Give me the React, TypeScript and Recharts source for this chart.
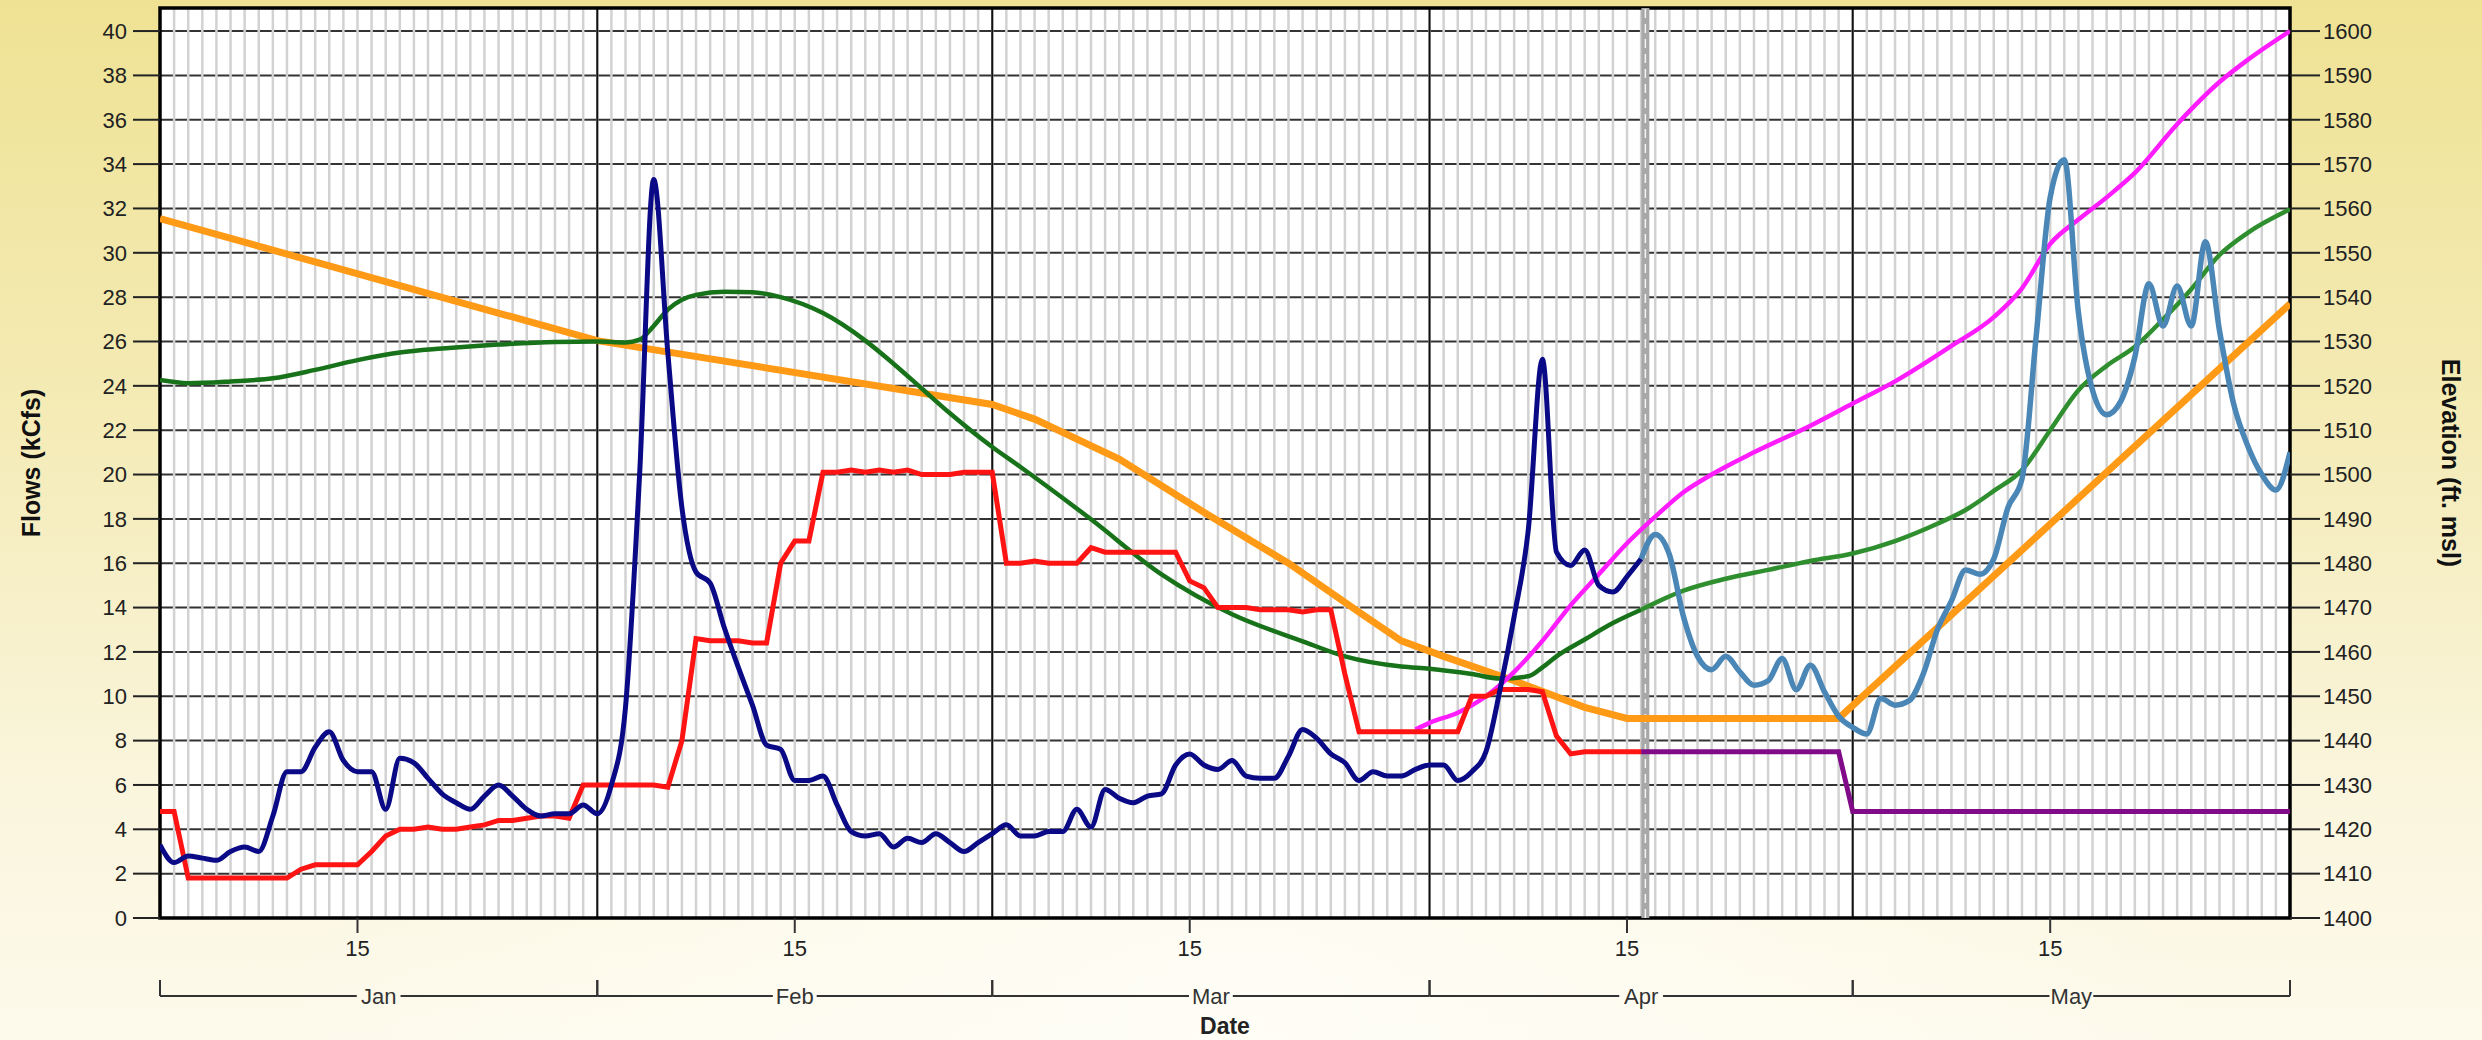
import { ComposedChart, Line, XAxis, YAxis, CartesianGrid, ReferenceLine, ReferenceArea } from 'recharts'

const CHART_W = 2482
const CHART_H = 1040
const LEFT_W = 160
const RIGHT_W = 192
const PLOT_W = CHART_W - LEFT_W - RIGHT_W
const DAY_SPAN = 151
const DAY_PX = PLOT_W / DAY_SPAN
const FONT = '"Liberation Sans", Arial, sans-serif'

// axes
const FLOW_TOP = 41.04
const ELEV_TOP = 1605.2
const FLOW_TICKS = [0, 2, 4, 6, 8, 10, 12, 14, 16, 18, 20, 22, 24, 26, 28, 30, 32, 34, 36, 38, 40]
const ELEV_TICKS = [1400, 1410, 1420, 1430, 1440, 1450, 1460, 1470, 1480, 1490, 1500, 1510, 1520, 1530, 1540, 1550, 1560, 1570, 1580, 1590, 1600]
const DAY_TICKS = [14, 45, 73, 104, 134]
const MONTH_STARTS = [31, 59, 90, 120]
const MONTH_LABELS = ['Jan', 'Feb', 'Mar', 'Apr', 'May']
const MONTH_DAYS = [31, 28, 31, 30, 31]
const MONTH_MIDS = [15.5, 45, 74.5, 105, 135.5]
const MARKER_DAY = 105.3

// flows (kcfs), one value per day
const INFLOW_OBS_START = 0
const INFLOW_OBS = [
  3.3, 2.5, 2.8, 2.7, 2.6, 3.0, 3.2, 3.0, 4.6, 6.6,
  6.6, 7.7, 8.4, 7.1, 6.6, 6.6, 4.9, 7.2, 7.0, 6.3,
  5.6, 5.2, 4.9, 5.5, 6.0, 5.5, 4.9, 4.6, 4.7, 4.7,
  5.1, 4.7, 6.0, 9.5, 20.0, 33.3, 25.5, 18.5, 15.6, 15.1,
  13.1, 11.3, 9.6, 7.8, 7.6, 6.2, 6.2, 6.4, 5.1, 3.9,
  3.7, 3.8, 3.2, 3.6, 3.4, 3.8, 3.4, 3.0, 3.4, 3.8,
  4.2, 3.7, 3.7, 3.9, 3.9, 4.9, 4.1, 5.8, 5.4, 5.2,
  5.5, 5.6, 6.9, 7.4, 6.9, 6.7, 7.1, 6.4, 6.3, 6.3,
  7.3, 8.5, 8.1, 7.4, 7.0, 6.2, 6.6, 6.4, 6.4, 6.7,
  6.9, 6.9, 6.2, 6.6, 7.5, 10.3, 13.6, 17.5, 25.2, 16.5,
  15.9, 16.6, 15.0, 14.7, 15.4, 16.2,
]
const INFLOW_FCST_START = 105
const INFLOW_FCST = [
  16.2, 17.3, 16.4, 13.6, 11.8, 11.2, 11.8, 11.1, 10.5, 10.7,
  11.7, 10.3, 11.4, 10.2, 9.1, 8.6, 8.3, 9.9, 9.6, 9.8,
  11.0, 13.0, 14.3, 15.7, 15.5, 16.2, 18.5, 19.8, 26.2, 32.5,
  34.2, 27.3, 23.8, 22.7, 23.3, 25.3, 28.6, 26.7, 28.5, 26.7,
  30.5, 26.5, 23.2, 21.3, 20.0, 19.3, 21.0,
]
const OUTFLOW_OBS_START = 0
const OUTFLOW_OBS = [
  4.8, 4.8, 1.8, 1.8, 1.8, 1.8, 1.8, 1.8, 1.8, 1.8,
  2.2, 2.4, 2.4, 2.4, 2.4, 3.0, 3.7, 4.0, 4.0, 4.1,
  4.0, 4.0, 4.1, 4.2, 4.4, 4.4, 4.5, 4.6, 4.6, 4.5,
  6.0, 6.0, 6.0, 6.0, 6.0, 6.0, 5.9, 8.0, 12.6, 12.5,
  12.5, 12.5, 12.4, 12.4, 16.0, 17.0, 17.0, 20.1, 20.1, 20.2,
  20.1, 20.2, 20.1, 20.2, 20.0, 20.0, 20.0, 20.1, 20.1, 20.1,
  16.0, 16.0, 16.1, 16.0, 16.0, 16.0, 16.7, 16.5, 16.5, 16.5,
  16.5, 16.5, 16.5, 15.2, 14.9, 14.0, 14.0, 14.0, 13.9, 13.9,
  13.9, 13.8, 13.9, 13.9, 11.0, 8.4, 8.4, 8.4, 8.4, 8.4,
  8.4, 8.4, 8.4, 10.0, 10.0, 10.3, 10.3, 10.3, 10.2, 8.2,
  7.4, 7.5, 7.5, 7.5, 7.5, 7.5,
]
const OUTFLOW_FCST_DAYS = [105, 119, 120, 151]
const OUTFLOW_FCST = [7.5, 7.5, 4.8, 4.8]

// elevations (ft msl)
const RULE_DAYS = [0, 31, 59, 62, 68, 74, 80, 85, 88, 91, 96, 101, 104, 119, 151]
const RULE_ELEV = [1557.7, 1530.2, 1515.8, 1512.5, 1503.5, 1491.5, 1480, 1469, 1462.5, 1459, 1453.5, 1447.5, 1445, 1445, 1538.5]
const ELEV_OBS_DAYS = [0, 2, 5, 8, 11, 14, 17, 20, 24, 28, 31, 33, 34, 35, 36, 37, 38, 40, 42, 44, 47, 50, 52, 54, 56, 59, 61, 66, 71, 76, 81, 84, 88, 90, 93, 95, 97, 98, 99, 101, 103, 105]
const ELEV_OBS = [1521.3, 1520.6, 1521, 1521.7, 1523.6, 1525.8, 1527.5, 1528.4, 1529.3, 1529.9, 1530, 1529.8, 1530.4, 1533.5, 1537.2, 1539.4, 1540.5, 1541.2, 1541.1, 1540, 1536.4, 1530.2, 1525, 1519.4, 1513.8, 1506.2, 1501.7, 1489.9, 1477.5, 1468.5, 1462.4, 1459, 1456.7, 1456.2, 1455, 1454, 1454.5, 1456.5, 1459, 1462.8, 1466.5, 1469.5]
const ELEV_FCST_DAYS = [105, 108, 111, 114, 117, 120, 123, 126, 128, 130, 132, 134, 136, 138, 140, 142, 144, 146, 148, 151]
const ELEV_FCST = [1469.5, 1473.8, 1476.5, 1478.5, 1480.5, 1482.2, 1485, 1488.9, 1492, 1496.3, 1501, 1510, 1519, 1524.5, 1528.8, 1535, 1541.8, 1549.5, 1554.5, 1559.8]
const ELEV_ALT_DAYS = [89, 90, 92, 94, 96, 98, 100, 102, 104, 106, 108, 110, 113, 117, 120, 123, 127, 130, 132, 134, 136, 138, 140, 143, 146, 148, 151]
const ELEV_ALT = [1442.5, 1444, 1446.3, 1450, 1455.5, 1462.5, 1470.5, 1477.5, 1484.5, 1490.5, 1496, 1500, 1505, 1511, 1516, 1521, 1529, 1535.5, 1542, 1552, 1557.5, 1562.5, 1568, 1579, 1588.5, 1593.5, 1600]

const daily = (start: number, values: number[]) => values.map((v, i) => ({ day: start + i, v }))
const paired = (days: number[], values: number[]) => days.map((d, i) => ({ day: d, v: values[i] }))

const ALL_DAYS = Array.from({ length: DAY_SPAN - 1 }, (_, i) => i + 1)

function MonthTick(props: any) {
  const { x, y, payload } = props
  const i = MONTH_MIDS.indexOf(payload.value)
  if (i < 0) return null
  const half = (MONTH_DAYS[i] / 2) * DAY_PX
  const label = MONTH_LABELS[i]
  const textHalf = label.length * 6.3 + 3
  const ly = y + 38
  const st = { stroke: '#333', strokeWidth: 2 }
  return (
    <g>
      <line x1={x - half} y1={ly} x2={x - textHalf} y2={ly} {...st} />
      <line x1={x + textHalf} y1={ly} x2={x + half} y2={ly} {...st} />
      <line x1={x - half} y1={ly - 16} x2={x - half} y2={ly} {...st} />
      <line x1={x + half} y1={ly - 16} x2={x + half} y2={ly} {...st} />
      <text x={x} y={ly + 8} textAnchor="middle" fontSize={22} fontFamily={FONT} fill="#333">
        {label}
      </text>
    </g>
  )
}

const tickStyle = { fill: '#222', fontSize: 22, fontFamily: FONT }

export default function App() {
  return (
    <div
      style={{
        position: 'absolute',
        left: 0,
        top: 0,
        width: CHART_W,
        height: CHART_H,
        background:
          'radial-gradient(ellipse at 50% 100%, rgba(255,254,248,0.85) 0%, rgba(255,254,248,0) 55%), linear-gradient(#efe294 0%, #f4ebb6 40%, #faf5dc 75%, #fdfaec 100%)',
      }}
    >
      <ComposedChart width={CHART_W} height={CHART_H} margin={{ top: 8, right: 0, bottom: 5, left: 0 }} style={{ fontFamily: FONT }}>
        <XAxis
          xAxisId="day"
          dataKey="day"
          type="number"
          domain={[0, DAY_SPAN]}
          allowDataOverflow
          ticks={DAY_TICKS}
          interval={0}
          tickFormatter={() => '15'}
          height={40}
          tickSize={15}
          tickMargin={7}
          axisLine={false}
          tickLine={{ stroke: '#333', strokeWidth: 2 }}
          tick={tickStyle}
        />
        <XAxis
          xAxisId="month"
          dataKey="day"
          type="number"
          domain={[0, DAY_SPAN]}
          allowDataOverflow
          ticks={MONTH_MIDS}
          interval={0}
          height={77}
          tickSize={0}
          tickMargin={0}
          axisLine={false}
          tickLine={false}
          tick={<MonthTick />}
          label={{ value: 'Date', position: 'insideBottom', offset: 1, fill: '#222', fontSize: 23, fontWeight: 'bold', fontFamily: FONT }}
        />
        <YAxis
          yAxisId="flow"
          orientation="left"
          width={LEFT_W}
          type="number"
          domain={[0, FLOW_TOP]}
          allowDataOverflow
          ticks={FLOW_TICKS}
          interval={0}
          tickSize={27}
          tickMargin={6}
          axisLine={false}
          tickLine={{ stroke: '#222', strokeWidth: 2 }}
          tick={tickStyle}
          label={{ value: 'Flows (kCfs)', angle: -90, position: 'center', dx: -49, fill: '#111', fontSize: 25, fontWeight: 'bold', fontFamily: FONT }}
        />
        <YAxis
          yAxisId="elev"
          orientation="right"
          width={RIGHT_W}
          type="number"
          domain={[1400, ELEV_TOP]}
          allowDataOverflow
          ticks={ELEV_TICKS}
          interval={0}
          tickSize={30}
          tickMargin={3}
          axisLine={false}
          tickLine={{ stroke: '#222', strokeWidth: 2 }}
          tick={tickStyle}
          label={{ value: 'Elevation (ft. msl)', angle: 90, position: 'center', dx: 65, fill: '#111', fontSize: 25, fontWeight: 'bold', fontFamily: FONT }}
        />

        <CartesianGrid xAxisId="day" yAxisId="flow" vertical={false} stroke="#333" strokeWidth={2} fill="#fff" />
        <CartesianGrid xAxisId="day" yAxisId="flow" horizontal={false} verticalValues={ALL_DAYS} stroke="#d2d2d2" strokeWidth={2.5} />
        <CartesianGrid xAxisId="day" yAxisId="flow" horizontal={false} verticalValues={MONTH_STARTS} stroke="#111" strokeWidth={2} />

        <ReferenceArea xAxisId="day" yAxisId="flow" x1={0} x2={DAY_SPAN} y1={0} y2={FLOW_TOP} fill="none" stroke="#000" strokeWidth={3.5} ifOverflow="visible" />
        <ReferenceLine xAxisId="day" yAxisId="flow" x={MARKER_DAY} stroke="#a8a8a8" strokeWidth={8} />
        <ReferenceLine xAxisId="day" yAxisId="flow" x={MARKER_DAY} stroke="#f4f4f4" strokeWidth={1.5} strokeDasharray="9 6" />

        <Line xAxisId="day" yAxisId="elev" data={paired(RULE_DAYS, RULE_ELEV)} dataKey="v" type="linear" stroke="#ff9a16" strokeWidth={7} dot={false} isAnimationActive={false} />
        <Line xAxisId="day" yAxisId="elev" data={paired(ELEV_OBS_DAYS, ELEV_OBS)} dataKey="v" type="monotone" stroke="#17721a" strokeWidth={4.5} dot={false} isAnimationActive={false} />
        <Line xAxisId="day" yAxisId="elev" data={paired(ELEV_FCST_DAYS, ELEV_FCST)} dataKey="v" type="monotone" stroke="#2f8f2f" strokeWidth={4.5} dot={false} isAnimationActive={false} />
        <Line xAxisId="day" yAxisId="elev" data={paired(ELEV_ALT_DAYS, ELEV_ALT)} dataKey="v" type="monotone" stroke="#ff1cff" strokeWidth={4.5} dot={false} isAnimationActive={false} />
        <Line xAxisId="day" yAxisId="flow" data={daily(OUTFLOW_OBS_START, OUTFLOW_OBS)} dataKey="v" type="linear" stroke="#ff1414" strokeWidth={5} dot={false} isAnimationActive={false} />
        <Line xAxisId="day" yAxisId="flow" data={paired(OUTFLOW_FCST_DAYS, OUTFLOW_FCST)} dataKey="v" type="linear" stroke="#800a88" strokeWidth={5} dot={false} isAnimationActive={false} />
        <Line xAxisId="day" yAxisId="flow" data={daily(INFLOW_OBS_START, INFLOW_OBS)} dataKey="v" type="monotone" stroke="#0a0a86" strokeWidth={5} dot={false} isAnimationActive={false} />
        <Line xAxisId="day" yAxisId="flow" data={daily(INFLOW_FCST_START, INFLOW_FCST)} dataKey="v" type="monotone" stroke="#4a86b6" strokeWidth={5.5} dot={false} isAnimationActive={false} />
      </ComposedChart>
    </div>
  )
}
